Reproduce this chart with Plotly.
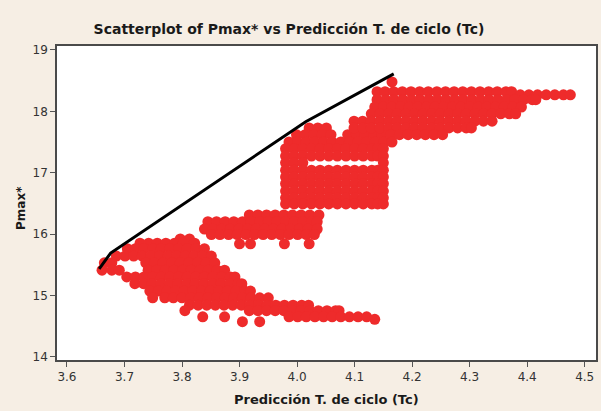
import plotly.graph_objects as go

# ---- data (Pmax* level, list of Tc values at that level) ----
upper_arm = [
    (18.48, [4.165]),
    (18.32, [4.139, 4.153, 4.168, 4.183, 4.198, 4.213, 4.228, 4.243, 4.258, 4.273, 4.288, 4.303, 4.318, 4.333, 4.348, 4.363, 4.373]),
    (18.27, [4.388, 4.403, 4.418, 4.433, 4.448, 4.463, 4.475]),
    (18.19, [4.139, 4.154, 4.169, 4.184, 4.199, 4.214, 4.229, 4.244, 4.259, 4.274, 4.289, 4.304, 4.319, 4.334, 4.349, 4.364, 4.379, 4.394, 4.409, 4.415]),
    (18.07, [4.135, 4.150, 4.165, 4.180, 4.195, 4.210, 4.225, 4.240, 4.255, 4.270, 4.285, 4.300, 4.315, 4.330, 4.345, 4.360, 4.375, 4.390]),
    (17.96, [4.129, 4.144, 4.159, 4.174, 4.189, 4.204, 4.219, 4.234, 4.249, 4.264, 4.279, 4.294, 4.309, 4.324, 4.339, 4.354, 4.369, 4.380]),
    (17.84, [4.099, 4.114, 4.129, 4.144, 4.159, 4.174, 4.189, 4.204, 4.219, 4.234, 4.249, 4.264, 4.279, 4.294, 4.309, 4.324, 4.339]),
    (17.73, [4.099, 4.114, 4.129, 4.144, 4.159, 4.174, 4.189, 4.204, 4.219, 4.234, 4.249, 4.264, 4.279, 4.294, 4.303]),
    (17.62, [4.163, 4.178, 4.193, 4.208, 4.223, 4.238, 4.253]),
    (17.50, [4.165]),
]

block = [
    (17.73, [4.021, 4.036, 4.051]),
    (17.62, [3.999, 4.014, 4.029, 4.044, 4.059, 4.088, 4.103, 4.118, 4.133, 4.148]),
    (17.50, [3.986, 4.001, 4.016, 4.031, 4.046, 4.061, 4.076, 4.091, 4.106, 4.121, 4.136, 4.151]),
    (17.39, [3.980, 3.995, 4.010, 4.025, 4.040, 4.055, 4.070, 4.085, 4.100, 4.115, 4.130, 4.140, 4.150]),
    (17.27, [3.980, 3.995, 4.010, 4.025, 4.040, 4.055, 4.070, 4.085, 4.100, 4.115, 4.130, 4.140, 4.150]),
    (17.16, [3.980, 3.995, 4.010, 4.150]),
    (17.04, [3.980, 3.995, 4.010, 4.025, 4.040, 4.055, 4.070, 4.085, 4.100, 4.115, 4.130, 4.140, 4.150]),
    (16.93, [3.980, 3.995, 4.010, 4.025, 4.040, 4.055, 4.070, 4.085, 4.100, 4.115, 4.130, 4.140, 4.150]),
    (16.82, [3.980, 3.995, 4.010, 4.025, 4.040, 4.055, 4.070, 4.085, 4.100, 4.115, 4.130, 4.140, 4.150]),
    (16.70, [3.980, 3.995, 4.010, 4.025, 4.040, 4.055, 4.070, 4.085, 4.100, 4.115, 4.130, 4.140, 4.150]),
    (16.59, [3.980, 3.995, 4.010, 4.025, 4.040, 4.055, 4.070, 4.085, 4.100, 4.115, 4.130, 4.140, 4.150]),
    (16.49, [3.980, 3.995, 4.010, 4.025, 4.040, 4.055, 4.070, 4.085, 4.100, 4.115, 4.130, 4.140, 4.150]),
]

middle_arm = [
    (16.31, [3.917, 3.932, 3.947, 3.962, 3.977, 3.992, 4.007, 4.022, 4.038]),
    (16.20, [3.845, 3.860, 3.875, 3.890, 3.905, 3.920, 3.935, 3.950, 3.965, 3.980, 3.995, 4.010, 4.025, 4.035]),
    (16.08, [3.839, 3.854, 3.869, 3.884, 3.899, 3.914, 3.929, 3.944, 3.959, 3.974, 3.989, 4.004, 4.019, 4.035]),
    (15.99, [3.851, 3.866, 3.881, 3.896, 3.911, 3.926, 3.941, 3.956, 3.971, 3.986, 4.001, 4.016, 4.030]),
    (15.84, [3.900, 3.919, 3.978, 4.021]),
]

lower_arm = [
    (15.92, [3.797, 3.813]),
    (15.85, [3.727, 3.742, 3.757, 3.772, 3.787, 3.802, 3.822]),
    (15.76, [3.705, 3.719, 3.734, 3.749, 3.764, 3.779, 3.794, 3.809, 3.824, 3.839]),
    (15.64, [3.686, 3.701, 3.716, 3.731, 3.746, 3.761, 3.776, 3.791, 3.806, 3.821, 3.836, 3.851]),
    (15.53, [3.665, 3.678, 3.737, 3.752, 3.767, 3.782, 3.797, 3.812, 3.827, 3.842, 3.857]),
    (15.41, [3.661, 3.678, 3.691, 3.741, 3.756, 3.771, 3.786, 3.801, 3.816, 3.831, 3.846, 3.861, 3.874]),
    (15.30, [3.704, 3.719, 3.734, 3.749, 3.764, 3.779, 3.794, 3.809, 3.824, 3.839, 3.854, 3.869, 3.884, 3.892]),
    (15.19, [3.718, 3.733, 3.748, 3.763, 3.778, 3.793, 3.808, 3.823, 3.838, 3.853, 3.868, 3.883, 3.898, 3.904]),
    (15.07, [3.744, 3.759, 3.774, 3.789, 3.804, 3.819, 3.834, 3.849, 3.864, 3.879, 3.894, 3.909, 3.919]),
    (14.96, [3.749, 3.770, 3.785, 3.800, 3.815, 3.830, 3.845, 3.860, 3.875, 3.890, 3.905, 3.920, 3.935, 3.950]),
    (14.84, [3.813, 3.828, 3.843, 3.858, 3.873, 3.888, 3.903, 3.918, 3.933, 3.948, 3.963, 3.978, 3.993, 4.008, 4.020]),
    (14.75, [3.805, 3.917, 3.932, 3.947, 3.962, 3.977, 3.992, 4.007, 4.022, 4.037, 4.052, 4.067, 4.073]),
    (14.65, [3.836, 3.874, 3.986, 4.001, 4.016, 4.031, 4.046, 4.061, 4.076, 4.091, 4.106, 4.121]),
    (14.61, [4.135]),
    (14.57, [3.905, 3.935]),
]

# Pareto front line
front_tc = [3.656, 3.676, 4.015, 4.168]
front_pmax = [15.43, 15.69, 17.83, 18.61]

x_ticks = [3.6, 3.7, 3.8, 3.9, 4.0, 4.1, 4.2, 4.3, 4.4, 4.5]
y_ticks = [14, 15, 16, 17, 18, 19]

title_text = "Scatterplot of Pmax* vs Predicción T. de ciclo (Tc)"
x_title = "Predicción T. de ciclo (Tc)"
y_title = "Pmax*"

# ---- flatten ----
tc, pmax = [], []
for group in (lower_arm, middle_arm, block, upper_arm):
    for level, xs in group:
        for v in xs:
            tc.append(v)
            pmax.append(level)

fig = go.Figure()
fig.add_trace(go.Scatter(
    x=tc, y=pmax, mode="markers",
    marker=dict(color="#EE2B2B", size=11, line=dict(width=0)),
    showlegend=False, hoverinfo="skip",
))
fig.add_trace(go.Scatter(
    x=front_tc, y=front_pmax, mode="lines",
    line=dict(color="#000000", width=3),
    showlegend=False, hoverinfo="skip",
))

axis_font = dict(family="DejaVu Sans", size=12, color="#333333")
fig.update_xaxes(
    range=[3.5827, 4.5196], tickvals=x_ticks, ticktext=[f"{v:.1f}" for v in x_ticks],
    ticks="outside", ticklen=5, tickcolor="#555555", tickwidth=1,
    showline=True, mirror=True, linecolor="#4a4a4a", linewidth=1.5,
    showgrid=False, zeroline=False, tickfont=axis_font,
)
fig.update_yaxes(
    range=[13.946, 19.065], tickvals=y_ticks, ticktext=[str(v) for v in y_ticks],
    ticks="outside", ticklen=5, tickcolor="#555555", tickwidth=1,
    showline=True, mirror=True, linecolor="#4a4a4a", linewidth=1.5,
    showgrid=False, zeroline=False, tickfont=axis_font,
)

fig.update_layout(
    width=601, height=411,
    margin=dict(l=57, r=3, t=46, b=51),
    paper_bgcolor="#F6EEE4", plot_bgcolor="#FFFFFF",
    title=dict(text=title_text, x=289/601, xref="container", xanchor="center",
               y=1 - 29/411, yref="container", yanchor="middle",
               font=dict(family="DejaVu Sans", size=14, color="#1a1a1a", weight="bold")),
    annotations=[
        dict(text=x_title, xref="paper", yref="paper", x=0.5, y=0, xanchor="center",
             yanchor="middle", yshift=-39, showarrow=False,
             font=dict(family="DejaVu Sans", size=13, color="#1a1a1a", weight="bold")),
        dict(text=y_title, xref="paper", yref="paper", x=0, y=0.5, xanchor="center",
             yanchor="middle", xshift=-36, yshift=-5, textangle=-90, showarrow=False,
             font=dict(family="DejaVu Sans", size=12, color="#1a1a1a", weight="bold")),
    ],
)

fig.write_html("out.html")
